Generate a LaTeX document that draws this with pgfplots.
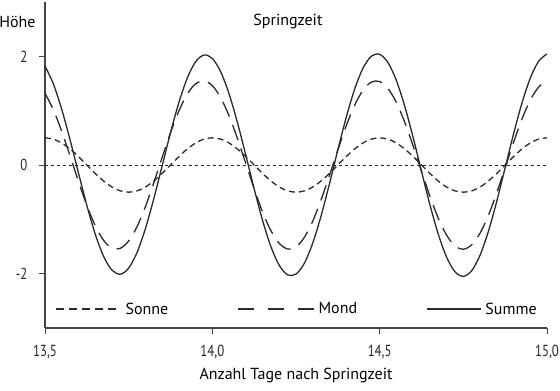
\documentclass[border=0pt]{standalone}
\usepackage{pgfplots}
\pgfplotsset{compat=1.18}
\usepackage{pgfplotstable}
\usepackage{fontspec}
\setmainfont{PT Sans}
\newfontfamily\tickfont{PT Sans}[FakeStretch=0.8]
\definecolor{axgray}{HTML}{444444}
\definecolor{curve}{HTML}{2A2A2A}
\pgfplotstableread{
x sonne mond summe
13.500 0.500 1.320 1.820
13.525 0.476 1.016 1.492
13.550 0.405 0.620 1.025
13.575 0.294 0.167 0.461
13.600 0.155 -0.301 -0.146
13.625 0.000 -0.742 -0.742
13.650 -0.155 -1.115 -1.270
13.675 -0.294 -1.386 -1.680
13.700 -0.405 -1.530 -1.935
13.725 -0.476 -1.534 -2.010
13.750 -0.500 -1.398 -1.898
13.775 -0.476 -1.135 -1.611
13.800 -0.405 -0.767 -1.172
13.825 -0.294 -0.329 -0.623
13.850 -0.155 0.138 -0.017
13.875 0.000 0.594 0.594
13.900 0.155 0.994 1.149
13.925 0.294 1.304 1.598
13.950 0.405 1.495 1.900
13.975 0.476 1.549 2.025
14.000 0.500 1.461 1.961
14.025 0.476 1.240 1.716
14.050 0.405 0.905 1.310
14.075 0.294 0.488 0.782
14.100 0.155 0.026 0.181
14.125 0.000 -0.438 -0.438
14.150 -0.155 -0.863 -1.018
14.175 -0.294 -1.208 -1.502
14.200 -0.405 -1.443 -1.848
14.225 -0.476 -1.546 -2.022
14.250 -0.500 -1.508 -2.008
14.275 -0.476 -1.332 -1.808
14.300 -0.405 -1.034 -1.439
14.325 -0.294 -0.641 -0.935
14.350 -0.155 -0.190 -0.345
14.375 0.000 0.278 0.278
14.400 0.155 0.721 0.876
14.425 0.294 1.098 1.392
14.450 0.405 1.375 1.780
14.475 0.476 1.526 2.002
14.500 0.500 1.537 2.037
14.525 0.476 1.408 1.884
14.550 0.405 1.150 1.555
14.575 0.294 0.787 1.081
14.600 0.155 0.352 0.507
14.625 0.000 -0.115 -0.115
14.650 -0.155 -0.572 -0.727
14.675 -0.294 -0.977 -1.271
14.700 -0.405 -1.291 -1.696
14.725 -0.476 -1.489 -1.965
14.750 -0.500 -1.550 -2.050
14.775 -0.476 -1.469 -1.945
14.800 -0.405 -1.254 -1.659
14.825 -0.294 -0.925 -1.219
14.850 -0.155 -0.510 -0.665
14.875 0.000 -0.049 -0.049
14.900 0.155 0.416 0.571
14.925 0.294 0.843 1.137
14.950 0.405 1.194 1.599
14.975 0.476 1.434 1.910
15.000 0.500 1.544 2.044
}\tidedata
\pgfplotsset{
  sonneleg/.style={legend image code/.code={\draw[curve, line width=1.3pt, dash pattern=on 8pt off 5pt] (0pt,0pt) -- (65pt,0pt);}},
  mondleg/.style={legend image code/.code={\draw[curve, line width=1.3pt, dash pattern=on 16pt off 14pt] (0pt,0pt) -- (76pt,0pt);}},
  summeleg/.style={legend image code/.code={\draw[curve, line width=1.3pt] (0pt,0pt) -- (54pt,0pt);}},
}
\begin{document}
\begin{tikzpicture}
\begin{axis}[
  at={(0pt,0pt)}, anchor=south west,
  scale only axis, width=502pt, height=326pt,
  xmin=13.5, xmax=15.0, ymin=-3, ymax=3,
  axis x line=bottom, axis y line=left,
  axis line style={-, axgray, line width=1.3pt},
  tick align=outside, major tick length=6pt,
  tick style={axgray, line width=0.8pt},
  xtick={13.5,14,14.5,15},
  xticklabels={13{,}5,14{,}0,14{,}5,15{,}0},
  ytick={-2,0,2},
  yticklabels={-2,0,2},
  font=\fontsize{16}{19}\selectfont,
  ticklabel style={font=\fontsize{16}{19}\selectfont\tickfont, text=black!85},
  xticklabel style={yshift=-8pt},
  yticklabel style={xshift=-8pt},
  xlabel={Anzahl Tage nach Springzeit},
  xlabel style={yshift=-2pt},
  ylabel={Höhe},
  every axis y label/.style={at={(axis description cs:0,0.94)}, anchor=east, xshift=-6pt},
  title={Springzeit},
  every axis title/.style={at={(axis description cs:0.484,0.94)}, anchor=center},
  clip=false,
  legend columns=3,
  legend cell align=left,
  legend style={at={(axis description cs:0.02,0.058)}, anchor=west, draw=none, fill=none, inner sep=0pt,
    font=\fontsize{16}{19}\selectfont,
    /tikz/every even column/.append style={column sep=67pt},
    /tikz/every odd column/.append style={column sep=2pt}},
]
\addplot[curve, line width=0.9pt, dash pattern=on 3pt off 3pt, forget plot] coordinates {(13.5,0) (15.0,0)};
\addplot[curve, line width=1.3pt, smooth, dash pattern=on 6pt off 4pt, sonneleg]
  table[x=x, y=sonne] {\tidedata};
\addlegendentry{Sonne}
\addplot[curve, line width=1.3pt, smooth, dash pattern=on 16pt off 9pt, mondleg]
  table[x=x, y=mond] {\tidedata};
\addlegendentry{Mond}
\addplot[curve, line width=1.3pt, smooth, summeleg]
  table[x=x, y=summe] {\tidedata};
\addlegendentry{Summe}
\end{axis}
\pgfresetboundingbox
\path[use as bounding box] (-45pt,-63pt) rectangle (515pt,328pt);
\end{tikzpicture}
\end{document}
